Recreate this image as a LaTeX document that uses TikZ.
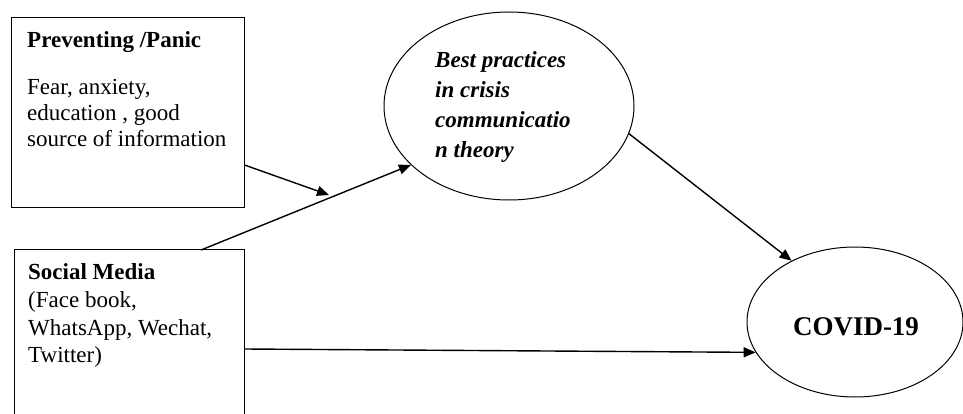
\documentclass[tikz,border=0pt]{standalone}
\usepackage{fontspec}
\setmainfont{Liberation Serif}
\usetikzlibrary{arrows.meta,shapes.geometric}
\begin{document}
\begin{tikzpicture}[x=1pt,y=-1pt,
  boxstyle/.style={draw,line width=1pt,rectangle,inner sep=0pt},
  ellstyle/.style={draw,line width=1pt,ellipse,inner sep=0pt},
  txt/.style={anchor=base west,inner sep=0pt,font=\fontsize{23}{26}\selectfont},
  arr/.style={line width=1.4pt,-{Triangle[length=12pt,width=10pt]}}]
\useasboundingbox (0,0) rectangle (963,414);
% boxes
\node[boxstyle,minimum width=233pt,minimum height=189pt] (box1) at (127.5,112.5) {};
\node[boxstyle,minimum width=230pt,minimum height=190pt] (box2) at (129,344) {};
% ellipses
\node[ellstyle,minimum width=250pt,minimum height=188pt] (ell1) at (509,106) {};
\node[ellstyle,minimum width=216pt,minimum height=150pt] (ell2) at (855,322) {};
% texts
\node[txt] (t1) at (27,48) {\bfseries Preventing /Panic};
\node[txt] (t2) at (27,95) {Fear, anxiety,};
\node[txt] (t3) at (27,121) {education , good};
\node[txt] (t4) at (27,147) {source of information};
\node[txt] (s1) at (28,279) {\bfseries Social Media};
\node[txt] (s2) at (28,307) {(Face book,};
\node[txt] (s3) at (28,335) {WhatsApp, Wechat,};
\node[txt] (s4) at (28,362) {Twitter)};
\node[txt] (b1) at (435,68) {\bfseries\itshape Best practices};
\node[txt] (b2) at (435,98) {\bfseries\itshape in crisis};
\node[txt] (b3) at (435,128) {\bfseries\itshape communicatio};
\node[txt] (b4) at (435,158) {\bfseries\itshape n theory};
\node[anchor=base,inner sep=0pt,font=\fontsize{27}{31}\selectfont\bfseries] (cv) at (856,335) {COVID-19};
% connectors
\coordinate (e1) at (329,195);
\coordinate (p2) at (201,250);
\draw[arr] (box1.east |- 0,165) -- (e1);
\draw[arr] (p2) -- (ell1.211);
\draw[arr] (ell1.-13) -- (ell2.136);
\draw[arr] (box2.east |- 0,349) -- (ell2.197);
\end{tikzpicture}
\end{document}
